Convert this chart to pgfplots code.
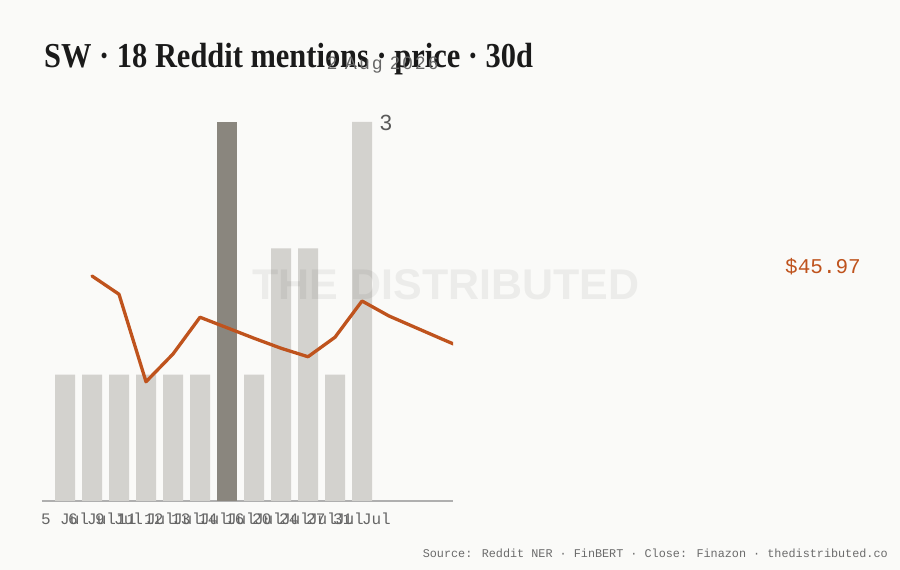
\documentclass[border=0pt]{standalone}
\usepackage{pgfplots}
\pgfplotsset{compat=1.18}
\usepackage{pgfplotstable}
\usepackage{fontspec}
\setmainfont{Liberation Sans}
\newfontfamily\monofont{Liberation Mono}
\newfontfamily\titlefont{Liberation Serif}
\newfontfamily\subfont[LetterSpace=15]{Liberation Sans}
\definecolor{bg}{HTML}{FAFAF8}
\definecolor{barlight}{HTML}{D3D2CE}
\definecolor{bardark}{HTML}{8A867E}
\definecolor{priceline}{HTML}{BF531D}
\definecolor{axisgray}{HTML}{AFAFAF}
\definecolor{ticktext}{HTML}{666666}
\definecolor{titletext}{HTML}{1A1A1A}

\pgfplotstableread{
x m
0 1
1 1
2 1
3 1
4 1
5 1
7 1
8 2
9 2
10 1
11 3
}\mentionslight
\pgfplotstableread{
x m
6 3
}\mentionsdark
\pgfplotstableread{
x p
1 48.51
2 47.78
3 44.28
4 45.39
5 46.86
6 46.44
7 46.02
8 45.62
9 45.28
10 46.06
11 47.51
12 46.91
13 46.44
14 45.97
15 45.51
}\price

\begin{document}
\begin{tikzpicture}
\useasboundingbox (0pt,0pt) rectangle (900pt,570pt);
\fill[bg] (0pt,0pt) rectangle (900pt,570pt);

\begin{axis}[
  at={(42pt,69pt)}, anchor=south west,
  width=411pt, height=379pt, scale only axis,
  xmin=-0.852, xmax=14.37, ymin=0, ymax=3,
  clip mode=individual,
  axis x line=bottom, axis y line=none,
  x axis line style={axisgray, line width=1.3pt, -},
  xtick={0,...,11},
  xticklabels={5 Jul,6 Jul,9 Jul,11 Jul,12 Jul,13 Jul,14 Jul,16 Jul,20 Jul,24 Jul,27 Jul,31 Jul},
  major tick length=0pt,
  xticklabel style={font=\monofont\fontsize{16}{16}\selectfont, text=ticktext, anchor=north, yshift=-8pt},
  ytick=\empty,
  ybar, bar width=20pt, bar shift=0pt,
]
\addplot[fill=barlight, draw=none] table[x=x,y=m] {\mentionslight};
\addplot[fill=bardark, draw=none] table[x=x,y=m] {\mentionsdark};
\node[font=\fontsize{22}{22}\selectfont, text=black!65, anchor=center] at (axis cs:11.89,2.99) {3};
\end{axis}

\node[font=\bfseries\fontsize{43}{43}\selectfont, text=black, text opacity=0.055] at (446pt,285pt) {THE DISTRIBUTED};

\begin{axis}[
  at={(42pt,69pt)}, anchor=south west,
  width=411pt, height=379pt, scale only axis,
  xmin=-0.852, xmax=14.37, ymin=39.51, ymax=54.67,
  hide axis,
]
\addplot[priceline, line width=3.3pt, line join=round, line cap=round] table[x=x,y=p] {\price};
\end{axis}

\node[anchor=base west, inner sep=0pt, text=titletext] at (44pt,502pt)
  {\scalebox{0.87}[1]{\titlefont\bfseries\fontsize{35}{35}\selectfont SW · 18 Reddit mentions · price · 30d}};
\node[anchor=base west, inner sep=0pt, text=black!60] at (327pt,500pt)
  {\subfont\fontsize{18}{18}\selectfont 2 Aug 2026};

\node[anchor=center, inner sep=0pt, text=priceline] at (823pt,303pt)
  {\monofont\fontsize{21}{21}\selectfont \$45.97};

\node[anchor=base east, inner sep=0pt, text=black!58] at (888pt,12pt)
  {\monofont\fontsize{11.8}{12}\selectfont Source: Reddit NER · FinBERT · Close: Finazon · thedistributed.co};
\end{tikzpicture}
\end{document}
